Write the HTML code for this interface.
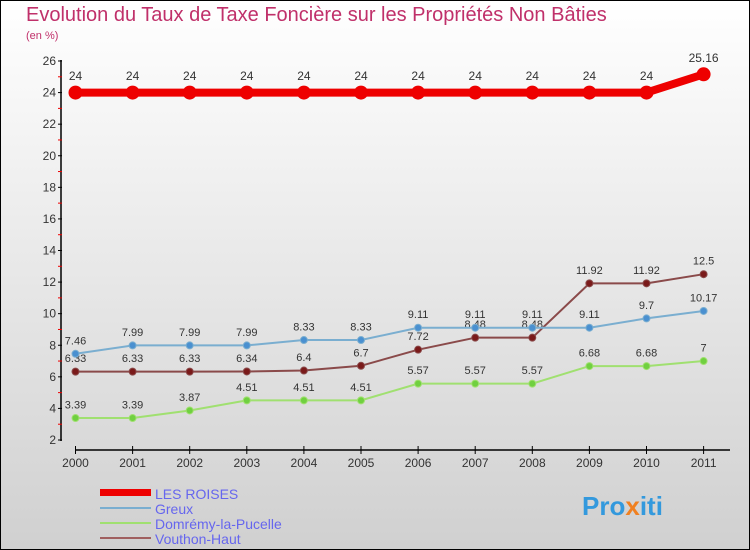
<!DOCTYPE html>
<html><head><meta charset="utf-8"><style>
body{margin:0;}
#c{width:750px;height:550px;position:relative;overflow:hidden;box-sizing:border-box;border:1px solid #000;background:linear-gradient(#ffffff,#d0d0d0);font-family:"Liberation Sans",sans-serif;}
</style></head><body>
<div id="c">
<svg id="s" width="750" height="550" style="position:absolute;left:-1px;top:-1px">
<text x="26" y="21" font-size="20" fill="#c0306a">Evolution du Taux de Taxe Foncière sur les Propriétés Non Bâties</text>
<text x="26" y="39" font-size="11" fill="#c0306a">(en %)</text>
<g id="axes"></g><g id="series"></g>
<g>
<rect x="100" y="489" width="51" height="7" fill="#e00"/>
<text x="155" y="499" font-size="14" fill="#6666ee">LES ROISES</text>
<rect x="100" y="507" width="51" height="2" fill="#7aaed0"/>
<text x="155" y="514" font-size="14" fill="#6666ee">Greux</text>
<rect x="100" y="522" width="51" height="2" fill="#a0e070"/>
<text x="155" y="529" font-size="14" fill="#6666ee">Domrémy-la-Pucelle</text>
<rect x="100" y="537" width="51" height="2" fill="#a06060"/>
<text x="155" y="544" font-size="14" fill="#6666ee">Vouthon-Haut</text>
</g>
<g><text x="582" y="515" font-size="26" font-weight="bold" fill="#3399dd">Pro<tspan fill="#f08020">x</tspan>iti</text></g>
</svg>
</div>
<script>
const years=[2000,2001,2002,2003,2004,2005,2006,2007,2008,2009,2010,2011];
const roises=[24,24,24,24,24,24,24,24,24,24,24,25.16];
const greux=[7.46,7.99,7.99,7.99,8.33,8.33,9.11,9.11,9.11,9.11,9.7,10.17];
const domremy=[3.39,3.39,3.87,4.51,4.51,4.51,5.57,5.57,5.57,6.68,6.68,7];
const vouthon=[6.33,6.33,6.33,6.34,6.4,6.7,7.72,8.48,8.48,11.92,11.92,12.5];
const yTicks=[2,4,6,8,10,12,14,16,18,20,22,24,26];
const NS="http://www.w3.org/2000/svg";
function X(i){return 75.5+i*57.1;}
function Y(v){return 440-(v-2)*(379/24);}
function mk(tag,attrs,parent,txt){const e=document.createElementNS(NS,tag);for(const k in attrs)e.setAttribute(k,attrs[k]);if(txt!==undefined)e.textContent=txt;parent.appendChild(e);return e;}
const ax=document.getElementById('axes');
let e=mk('line',{x1:61,y1:60,x2:61,y2:441,stroke:'#000','stroke-width':1.5},ax);


e=mk('line',{x1:75,y1:450,x2:730,y2:450,stroke:'#000','stroke-width':1.5},ax);


yTicks.forEach(v=>{
 mk('line',{x1:58,y1:Y(v),x2:62,y2:Y(v),stroke:'#000'},ax);
 if(v<26)mk('line',{x1:58,y1:Y(v+1),x2:62,y2:Y(v+1),stroke:'#e00'},ax);
 const t=mk('text',{x:56,y:Y(v)+4,'font-size':12,'text-anchor':'end',fill:'#333'},ax,String(v));
 
 
});
years.forEach((yr,i)=>{
 mk('line',{x1:X(i),y1:446,x2:X(i),y2:454,stroke:'#000'},ax);
 const t=mk('text',{x:X(i),y:467,'font-size':12,'text-anchor':'middle',fill:'#333'},ax,String(yr));
 
 
});
const sg=document.getElementById('series');
function series(data,name,color,dot,w,r,fs){
 const g=mk('g',{},sg);
 
 
 const pl=mk('polyline',{points:data.map((v,i)=>X(i)+','+Y(v)).join(' '),fill:'none',stroke:color,'stroke-width':w,'stroke-linejoin':'round'},g);
 
 
 data.forEach((v,i)=>{
  const c=mk('circle',{cx:X(i),cy:Y(v),r:r,fill:dot,stroke:color,'stroke-width':1},g);
  
  
  const t=mk('text',{x:X(i),y:Y(v)-r-6,'font-size':fs,'text-anchor':'middle',fill:'#333'},g,String(v));
  
  
 });
}
series(vouthon,'vouthon-haut','#8a4a4a','#7a1a1a',2,3.5,11);
series(domremy,'domremy','#a0e070','#70d040',2,3.5,11);
series(greux,'greux','#7aaed0','#4a90d0',2,3.5,11);
series(roises,'les-roises','#e00','#e00',8,6.5,12);
</script>
</body></html>
